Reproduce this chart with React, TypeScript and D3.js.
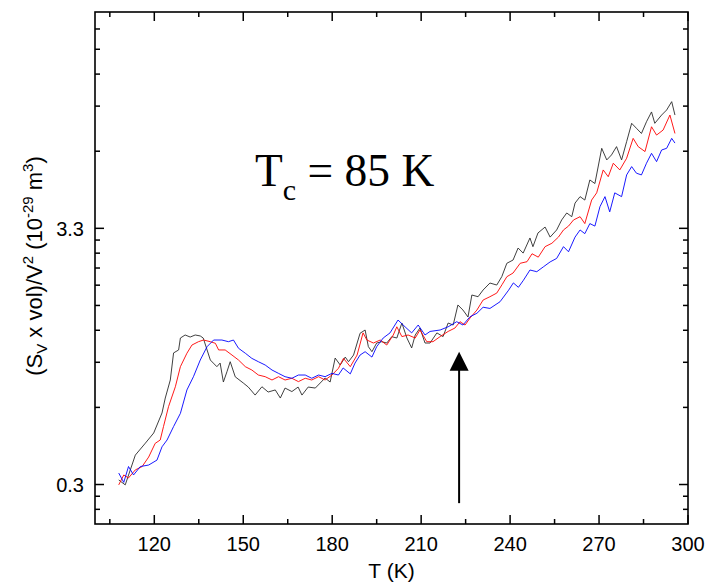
import React from "react";
import * as d3 from "d3";

// ---- data (T in K, value in 10^-29 m^3) ----
const blackSeries: [number, number][] = [
  [108.0, 0.313], [110.2, 0.299], [113.6, 0.395], [117.0, 0.442], [119.8, 0.486],
  [122.6, 0.586], [123.7, 0.674], [125.4, 0.798], [126.5, 1.028], [128.2, 1.057],
  [128.8, 1.182], [130.4, 1.216], [132.1, 1.193], [133.8, 1.216], [135.5, 1.205],
  [136.5, 1.182], [138.9, 0.962], [139.9, 0.935], [141.1, 0.904], [142.2, 0.935],
  [143.3, 0.783], [144.5, 0.862], [145.6, 0.947], [147.3, 0.822], [150.0, 0.776],
  [151.7, 0.747], [154.0, 0.693], [156.3, 0.749], [158.4, 0.713], [160.8, 0.727],
  [162.5, 0.674], [164.1, 0.740], [166.4, 0.716], [168.5, 0.747], [169.8, 0.693],
  [171.9, 0.747], [174.3, 0.740], [177.6, 0.813], [179.3, 0.783], [181.0, 0.980],
  [182.7, 0.918], [184.4, 0.989], [185.5, 0.947], [187.2, 1.008], [189.4, 1.236],
  [191.1, 1.274], [192.2, 1.090], [193.4, 1.040], [195.0, 1.128], [196.7, 1.142],
  [198.4, 1.128], [200.1, 1.197], [201.8, 1.182], [203.5, 1.360], [205.2, 1.182],
  [206.8, 1.077], [208.0, 1.216], [209.6, 1.298], [211.3, 1.128], [213.0, 1.128],
  [215.3, 1.240], [217.4, 1.198], [219.1, 1.360], [220.8, 1.335], [222.4, 1.610],
  [224.1, 1.536], [225.8, 1.439], [227.1, 1.768], [229.2, 1.740], [230.9, 1.853],
  [233.2, 1.978], [235.5, 1.941], [237.2, 2.10], [238.9, 2.379], [241.0, 2.453],
  [242.7, 2.745], [244.4, 2.617], [246.7, 3.015], [247.7, 2.779], [249.4, 3.16],
  [251.8, 3.34], [253.5, 3.04], [255.7, 3.25], [257.4, 3.57], [259.1, 3.81],
  [260.8, 3.68], [261.9, 4.18], [263.6, 4.44], [265.2, 4.30], [266.9, 5.19],
  [268.6, 5.02], [270.9, 6.98], [272.6, 6.26], [274.2, 6.56], [275.9, 7.09],
  [277.6, 6.26], [279.3, 7.43], [281.0, 8.82], [282.6, 8.42], [284.3, 8.02],
  [286.0, 8.95], [287.7, 9.81], [288.8, 8.82], [291.1, 9.53], [292.8, 9.99],
  [294.5, 10.8], [295.6, 9.53],
];

const redSeries: [number, number][] = [
  [108.0, 0.299], [109.7, 0.328], [111.3, 0.319], [113.6, 0.344], [115.9, 0.355],
  [118.1, 0.388], [120.3, 0.441], [122.0, 0.455], [123.1, 0.516], [124.8, 0.622],
  [127.1, 0.749], [128.8, 0.904], [131.0, 1.025], [132.7, 1.107], [134.9, 1.142],
  [136.6, 1.160], [138.9, 1.142], [140.6, 1.125], [141.7, 1.057], [143.9, 1.057],
  [146.2, 1.008], [148.4, 0.962], [150.7, 0.904], [152.9, 0.876], [155.1, 0.836],
  [157.4, 0.823], [159.7, 0.798], [161.9, 0.823], [164.1, 0.798], [166.4, 0.811],
  [168.6, 0.786], [170.9, 0.811], [173.1, 0.798], [175.4, 0.823], [177.6, 0.798],
  [179.9, 0.836], [182.1, 0.890], [183.8, 0.977], [186.1, 0.904], [188.4, 1.008],
  [190.4, 1.240], [191.7, 1.160], [193.9, 1.128], [196.2, 1.160], [198.4, 1.107],
  [200.6, 1.216], [201.8, 1.313], [203.5, 1.198], [205.6, 1.216], [208.0, 1.182],
  [209.6, 1.274], [211.9, 1.142], [214.0, 1.142], [216.4, 1.198], [219.1, 1.257],
  [221.4, 1.298], [223.1, 1.377], [224.8, 1.335], [226.5, 1.426], [228.8, 1.536],
  [230.9, 1.687], [233.2, 1.740], [235.5, 1.800], [237.3, 1.95], [238.9, 2.098],
  [241.0, 2.172], [243.4, 2.379], [245.7, 2.415], [247.4, 2.601], [249.5, 2.52],
  [251.8, 2.78], [254.1, 2.87], [256.3, 3.04], [258.0, 3.25], [259.7, 3.37],
  [261.4, 3.57], [263.6, 3.68], [265.2, 3.45], [267.5, 4.30], [269.2, 4.60],
  [271.4, 5.70], [273.1, 5.35], [274.8, 6.07], [277.0, 5.70], [279.3, 6.36],
  [281.5, 7.66], [283.2, 7.09], [285.5, 6.77], [287.7, 8.54], [289.4, 7.90],
  [291.6, 8.28], [293.9, 9.53], [295.6, 8.02],
];

const blueSeries: [number, number][] = [
  [108.0, 0.334], [109.7, 0.306], [111.3, 0.355], [113.0, 0.328], [115.3, 0.355],
  [118.1, 0.360], [120.9, 0.377], [122.6, 0.427], [124.3, 0.455], [126.5, 0.516],
  [128.8, 0.584], [131.0, 0.727], [133.2, 0.823], [135.5, 0.962], [137.8, 1.090],
  [140.0, 1.160], [142.8, 1.160], [145.0, 1.142], [146.7, 1.160], [148.4, 1.074],
  [150.7, 1.025], [152.9, 0.977], [155.1, 0.947], [157.4, 0.918], [159.7, 0.876],
  [161.9, 0.849], [164.1, 0.823], [166.4, 0.811], [168.6, 0.836], [170.9, 0.836],
  [173.1, 0.811], [175.4, 0.836], [177.6, 0.823], [179.9, 0.849], [182.1, 0.836],
  [183.7, 0.893], [186.1, 0.845], [187.7, 0.935], [189.4, 1.008], [191.1, 1.040],
  [193.4, 0.989], [195.0, 1.090], [197.2, 1.182], [199.5, 1.240], [202.2, 1.399],
  [204.6, 1.312], [206.8, 1.240], [209.0, 1.335], [211.3, 1.216], [213.0, 1.257],
  [216.4, 1.274], [219.1, 1.313], [222.0, 1.377], [224.1, 1.335], [226.5, 1.443],
  [228.8, 1.490], [230.9, 1.577], [233.2, 1.559], [236.6, 1.660], [239.5, 1.85],
  [241.1, 1.98], [242.8, 1.90], [244.5, 2.03], [246.7, 2.234], [249.0, 2.199],
  [251.2, 2.30], [253.5, 2.41], [255.7, 2.49], [258.0, 2.78], [259.7, 2.65],
  [261.9, 3.04], [263.6, 3.25], [265.2, 3.14], [266.9, 3.45], [268.6, 3.37],
  [270.3, 4.04], [272.0, 4.44], [273.6, 3.85], [275.3, 4.60], [277.6, 4.44],
  [279.3, 5.44], [281.0, 5.88], [282.6, 5.53], [284.3, 5.44], [286.0, 6.07],
  [287.7, 6.66], [289.4, 6.16], [291.1, 6.87], [292.8, 6.98], [294.5, 7.66],
  [295.6, 7.33],
];

const xMajorTicks = [120, 150, 180, 210, 240, 270, 300];
const xMinorTicks = [105, 135, 165, 195, 225, 255, 285];
const yMajorTicks = [0.3, 3.3];
const yTickLabels = ["0.3", "3.3"];
const yMinorFactors = [2, 3, 4, 5, 6, 7, 8, 9];

const arrowT = 222.8;
const arrowFrom = 0.252;
const arrowTo = 1.04;

const W = 708;
const H = 584;
const left = 95;
const right = 688;
const top = 12;
const bottom = 524;

export default function App() {
  const x = d3.scaleLinear().domain([100, 300]).range([left, right]);
  const y = d3.scaleLog().domain([0.2073, 25.0]).range([bottom, top]);
  const ratio = yMajorTicks[1] / yMajorTicks[0];

  const yMinor: number[] = [];
  [yMajorTicks[0] / ratio, ...yMajorTicks].forEach((b) => {
    yMinorFactors.forEach((k) => {
      const v = b * Math.pow(ratio, Math.log10(k));
      const [d0, d1] = y.domain();
      if (v > d0 && v < d1) yMinor.push(v);
    });
  });

  const line = d3
    .line<[number, number]>()
    .x((d) => x(d[0]))
    .y((d) => y(d[1]))
    .curve(d3.curveLinear);

  const majLen = 9;
  const minLen = 5;
  const ax = x(arrowT);
  const yTip = y(arrowTo);
  const yTail = y(arrowFrom);

  return (
    <svg
      width={W}
      height={H}
      style={{ position: "absolute", left: 0, top: 0, background: "#fff" }}
      fontFamily="Arial, 'Liberation Sans', sans-serif"
    >
      <rect x={0} y={0} width={W} height={H} fill="#fff" />
      <defs>
        <clipPath id="plotclip">
          <rect x={left} y={top} width={right - left} height={bottom - top} />
        </clipPath>
      </defs>

      <g clipPath="url(#plotclip)" fill="none" strokeWidth={0.9} strokeLinejoin="round">
        <path d={line(blackSeries) || ""} stroke="#2a2a2a" />
        <path d={line(redSeries) || ""} stroke="#ff0000" />
        <path d={line(blueSeries) || ""} stroke="#0000ff" />
      </g>

      {/* arrow */}
      <line x1={ax} x2={ax} y1={yTail} y2={yTip + 12} stroke="#000" strokeWidth={2} />
      <path
        d={`M${ax},${yTip} L${ax - 9.5},${yTip + 19} L${ax + 9.5},${yTip + 19} Z`}
        fill="#000"
      />

      {/* ticks */}
      <g stroke="#000" strokeWidth={1.5}>
        {xMajorTicks.map((t) => (
          <g key={"xm" + t}>
            <line x1={x(t)} x2={x(t)} y1={bottom} y2={bottom - majLen} />
            <line x1={x(t)} x2={x(t)} y1={top} y2={top + majLen} />
          </g>
        ))}
        {xMinorTicks.map((t) => (
          <g key={"xn" + t}>
            <line x1={x(t)} x2={x(t)} y1={bottom} y2={bottom - minLen} />
            <line x1={x(t)} x2={x(t)} y1={top} y2={top + minLen} />
          </g>
        ))}
        {yMajorTicks.map((t) => (
          <g key={"ym" + t}>
            <line x1={left} x2={left + majLen} y1={y(t)} y2={y(t)} />
            <line x1={right} x2={right - majLen} y1={y(t)} y2={y(t)} />
          </g>
        ))}
        {yMinor.map((t, i) => (
          <g key={"yn" + i}>
            <line x1={left} x2={left + minLen} y1={y(t)} y2={y(t)} />
            <line x1={right} x2={right - minLen} y1={y(t)} y2={y(t)} />
          </g>
        ))}
      </g>

      {/* frame */}
      <rect
        x={left}
        y={top}
        width={right - left}
        height={bottom - top}
        fill="none"
        stroke="#000"
        strokeWidth={1.6}
      />

      {/* tick labels */}
      <g fontSize={20} fill="#000">
        {xMajorTicks.map((t) => (
          <text key={"xl" + t} x={x(t)} y={551} textAnchor="middle">
            {t}
          </text>
        ))}
        {yMajorTicks.map((t, i) => (
          <text key={"yl" + t} x={84} y={y(t)} dy="0.36em" textAnchor="end">
            {yTickLabels[i]}
          </text>
        ))}
      </g>

      {/* axis titles */}
      <text x={(left + right) / 2} y={578} fontSize={21} textAnchor="middle">
        T (K)
      </text>
      <text
        transform={`translate(42, 266) rotate(-90)`}
        fontSize={22}
        textAnchor="middle"
      >
        (S
        <tspan fontSize={15} dy={5}>V</tspan>
        <tspan dy={-5}> x vol)/V</tspan>
        <tspan fontSize={15} dy={-9}>2</tspan>
        <tspan dy={9}> (10</tspan>
        <tspan fontSize={15} dy={-9}>-29</tspan>
        <tspan dy={9}> m</tspan>
        <tspan fontSize={15} dy={-9}>3</tspan>
        <tspan dy={9}>)</tspan>
      </text>

      {/* annotation */}
      <text x={255} y={186} fontFamily="'Liberation Serif', 'Times New Roman', serif" fontSize={45.5}>
        T
        <tspan fontSize={30} dy={14}>c</tspan>
        <tspan dy={-14}> = 85 K</tspan>
      </text>
    </svg>
  );
}
